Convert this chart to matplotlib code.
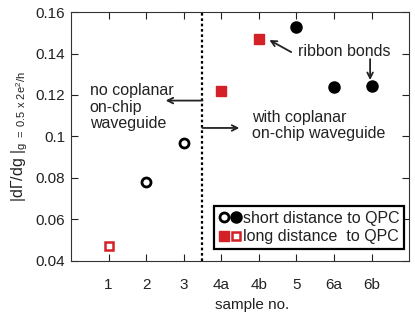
import matplotlib
matplotlib.use("Agg")
import matplotlib.pyplot as plt
from matplotlib.legend_handler import HandlerTuple
from matplotlib.lines import Line2D

plt.rcParams["font.family"] = ["Liberation Sans", "DejaVu Sans"]
plt.rcParams["mathtext.fontset"] = "custom"
plt.rcParams["mathtext.rm"] = "Liberation Sans"
plt.rcParams["mathtext.it"] = "Liberation Sans"

# sample labels and positions
samples = ["1", "2", "3", "4a", "4b", "5", "6a", "6b"]
xpos = [1, 2, 3, 4, 5, 6, 7, 8]

# values per marker type
open_sq_x = [1]
open_sq_y = [0.0474]
open_circ_x = [2, 3]
open_circ_y = [0.078, 0.097]
fill_sq_x = [4, 5]
fill_sq_y = [0.122, 0.147]
fill_circ_x = [6, 7, 8]
fill_circ_y = [0.153, 0.1237, 0.1243]

RED = "#d42027"
TXT = "#222222"
FS = 11.5

fig = plt.figure(figsize=(4.15, 3.17), dpi=100)
ax = fig.add_axes([0.171, 0.177, 0.815, 0.785])

ax.plot(open_sq_x, open_sq_y, ls="none", marker="s", ms=6, mfc="white", mec=RED, mew=1.8)
ax.plot(open_circ_x, open_circ_y, ls="none", marker="o", ms=6.5, mfc="white", mec="black", mew=2)
ax.plot(fill_sq_x, fill_sq_y, ls="none", marker="s", ms=7, mfc=RED, mec=RED)
ax.plot(fill_circ_x, fill_circ_y, ls="none", marker="o", ms=8, mfc="black", mec="black")

ax.axvline(3.5, color="black", lw=1.6, ls=(0, (1.2, 1.2)))

ax.set_xlim(0, 9)
ax.set_ylim(0.04, 0.16)
ax.set_xticks(xpos)
ax.set_xticklabels(samples)
ax.set_yticks([0.04, 0.06, 0.08, 0.1, 0.12, 0.14, 0.16])
ax.set_yticklabels(["0.04", "0.06", "0.08", "0.1", "0.12", "0.14", "0.16"])
ax.tick_params(axis="x", direction="in", top=True, length=5, pad=12, labelsize=11, colors=TXT)
ax.tick_params(axis="y", direction="in", right=True, length=5, pad=4, labelsize=11, colors=TXT)
for sp in ax.spines.values():
    sp.set_color("#333333")

ax.set_xlabel("sample no.", fontsize=11, color=TXT)
ax.xaxis.set_label_coords(0.535, -0.15)
ax.set_ylabel(r"|d$\Gamma$/dg |$_{\mathregular{g\ =\ 0.5\ x\ 2e^2/h}}$", fontsize=FS, color=TXT, labelpad=4)

arrow = dict(arrowstyle="->", color=TXT, lw=1.3, shrinkA=0, shrinkB=0)
ax.annotate("", xy=(2.52, 0.1173), xytext=(3.5, 0.1173), arrowprops=arrow)
ax.text(0.5, 0.1142, "no coplanar\non-chip\nwaveguide", fontsize=FS, color=TXT, va="center", ha="left", linespacing=1.15)

ax.annotate("", xy=(4.48, 0.1041), xytext=(3.5, 0.1041), arrowprops=arrow)
ax.text(4.83, 0.1051, "with coplanar\non-chip waveguide", fontsize=FS, color=TXT, va="center", ha="left", linespacing=1.1)

ax.annotate("", xy=(5.28, 0.1465), xytext=(5.86, 0.1407), arrowprops=arrow)
ax.text(6.05, 0.1409, "ribbon bonds", fontsize=FS, color=TXT, va="center", ha="left")
ax.annotate("", xy=(7.96, 0.1272), xytext=(7.96, 0.1373), arrowprops=arrow)

h_short = (Line2D([], [], ls="none", marker="o", ms=6.5, mfc="white", mec="black", mew=2),
           Line2D([], [], ls="none", marker="o", ms=8, mfc="black", mec="black"))
h_long = (Line2D([], [], ls="none", marker="s", ms=7, mfc=RED, mec=RED),
          Line2D([], [], ls="none", marker="s", ms=6, mfc="white", mec=RED, mew=1.8))
leg = ax.legend([h_short, h_long], ["short distance to QPC", "long distance  to QPC"],
                handler_map={tuple: HandlerTuple(ndivide=None, pad=0.05)},
                loc="lower right", bbox_to_anchor=(0.985, 0.048), fontsize=FS,
                handlelength=1.4, handletextpad=0.1, borderpad=0.3, labelspacing=0.2,
                fancybox=False, framealpha=1, borderaxespad=0)
leg.get_frame().set_edgecolor("black")
leg.get_frame().set_linewidth(1.6)
for t in leg.get_texts():
    t.set_color(TXT)

fig.savefig("out.png", dpi=100)
